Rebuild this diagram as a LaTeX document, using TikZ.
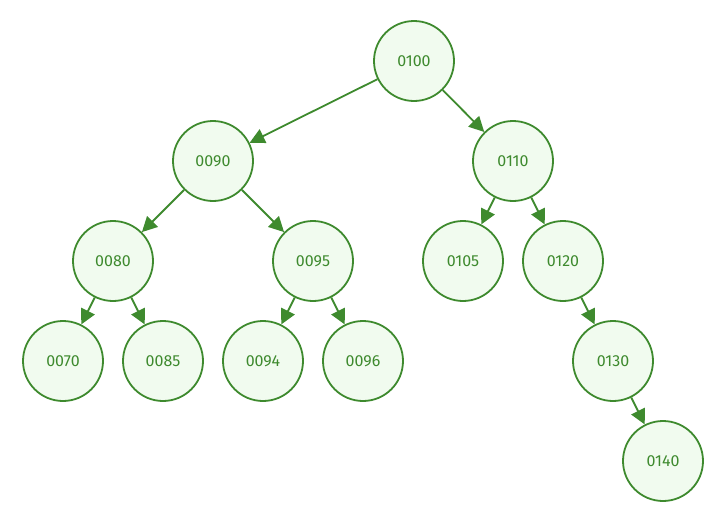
\documentclass[tikz,border=0pt]{standalone}
\usepackage{fontspec}
\setmainfont{Fira Sans}
\usetikzlibrary{arrows.meta}
\definecolor{edgegreen}{HTML}{3E8A2E}
\definecolor{fillgreen}{HTML}{F1FBEF}
\begin{document}
\begin{tikzpicture}[x=1pt,y=-1pt,
  tnode/.style={circle,draw=edgegreen,fill=fillgreen,line width=1.8pt,minimum size=80pt,inner sep=0pt,text=edgegreen,font=\fontsize{16}{18}\selectfont},
  tedge/.style={draw=edgegreen,line width=1.8pt,-{Triangle[length=15pt,width=15pt]}}]
\useasboundingbox (0,0) rectangle (726,522);
\node[tnode] (n100) at (414,61) {0100};
\node[tnode] (n90) at (213,161) {0090};
\node[tnode] (n110) at (513,161) {0110};
\node[tnode] (n80) at (113,261) {0080};
\node[tnode] (n95) at (313,261) {0095};
\node[tnode] (n105) at (463,261) {0105};
\node[tnode] (n120) at (563,261) {0120};
\node[tnode] (n70) at (63,361) {0070};
\node[tnode] (n85) at (163,361) {0085};
\node[tnode] (n94) at (263,361) {0094};
\node[tnode] (n96) at (363,361) {0096};
\node[tnode] (n130) at (613,361) {0130};
\node[tnode] (n140) at (663,461) {0140};
\draw[tedge] (n100) -- (n90);
\draw[tedge] (n100) -- (n110);
\draw[tedge] (n90) -- (n80);
\draw[tedge] (n90) -- (n95);
\draw[tedge] (n110) -- (n105);
\draw[tedge] (n110) -- (n120);
\draw[tedge] (n80) -- (n70);
\draw[tedge] (n80) -- (n85);
\draw[tedge] (n95) -- (n94);
\draw[tedge] (n95) -- (n96);
\draw[tedge] (n120) -- (n130);
\draw[tedge] (n130) -- (n140);
\end{tikzpicture}
\end{document}
